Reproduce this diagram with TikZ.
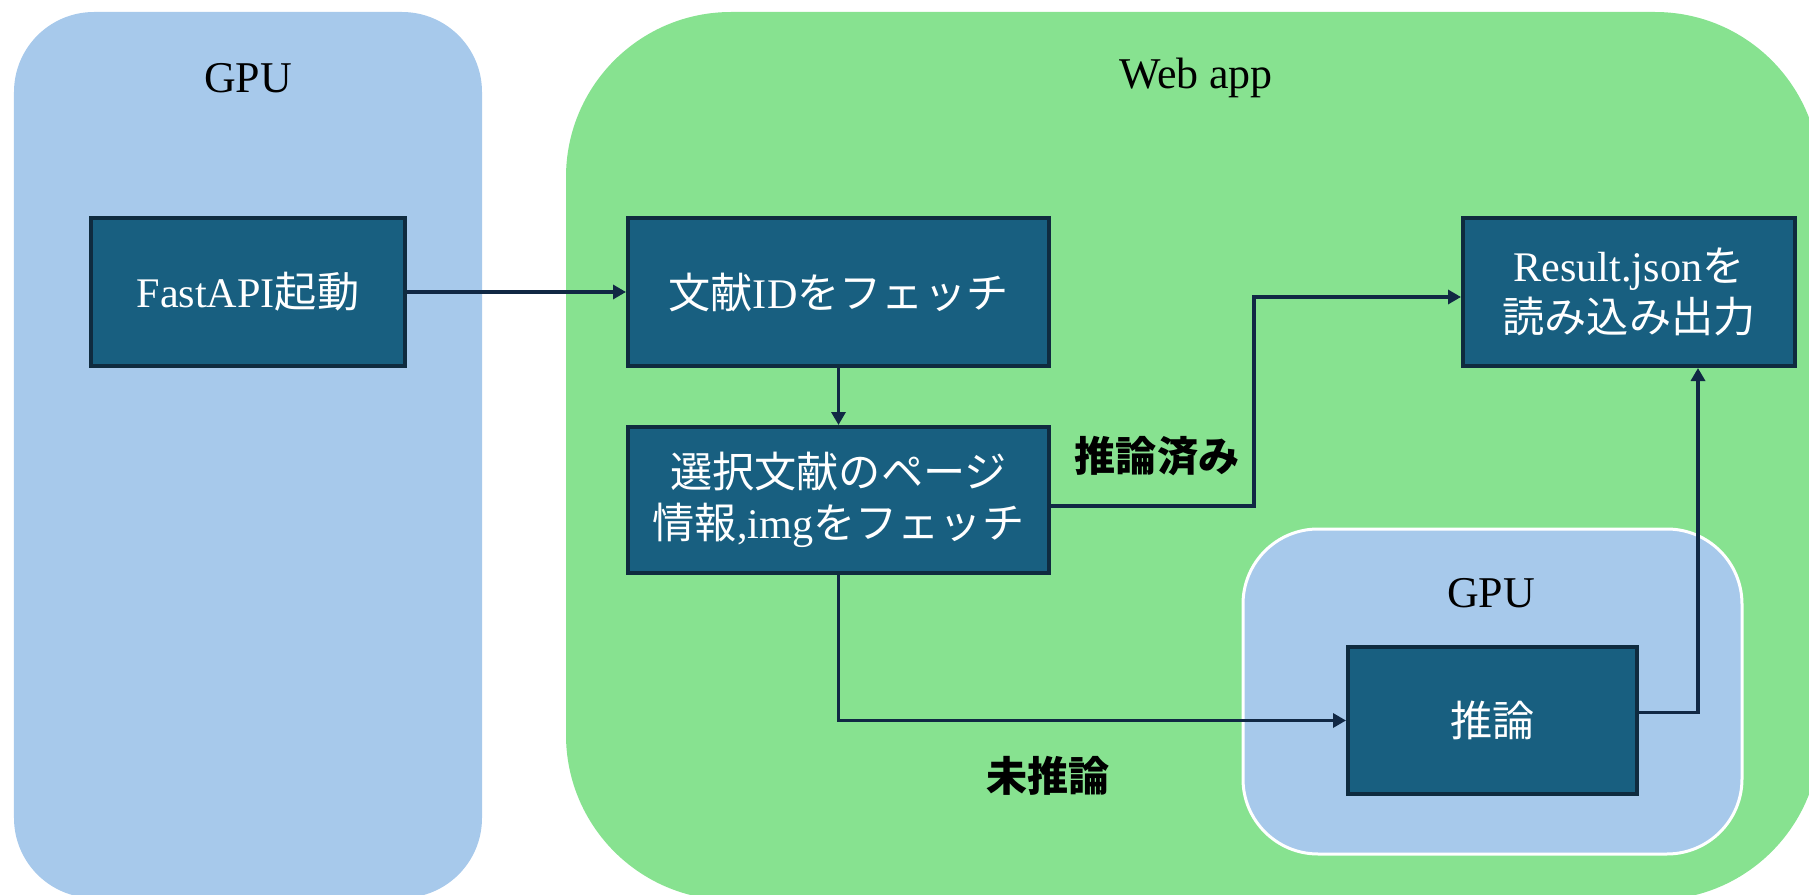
\documentclass[tikz,border=0pt]{standalone}
\usepackage{fontspec}
\setmainfont{Liberation Serif}
\newfontfamily\jp{Noto Sans CJK JP}
\usetikzlibrary{arrows.meta}
\definecolor{gpublue}{RGB}{167,201,235}
\definecolor{webgreen}{RGB}{135,226,144}
\definecolor{boxfill}{RGB}{24,95,128}
\definecolor{boxline}{RGB}{15,43,63}
\definecolor{arrline}{RGB}{17,40,68}
\newcommand{\bx}{\fontsize{12}{14.7}\selectfont}

\begin{document}
\begin{tikzpicture}[
   box/.style={draw=boxline,fill=boxfill,line width=0.04cm,text=white,align=center,font=\bx,inner sep=0pt},
   arr/.style={draw=arrline,line width=0.035cm,-{Triangle[length=0.13cm,width=0.14cm]}},
   lbl/.style={font=\fontsize{12.5}{15}\selectfont},
   tag/.style={font=\jp\bfseries\fontsize{11.7}{14}\selectfont}]
   \useasboundingbox (0,0) rectangle (18.09,8.94);
   \clip (0,0) rectangle (18.09,8.94);
   \fill[gpublue,rounded corners=0.8cm] (0.14,-0.04) rectangle (4.82,8.82);
   \fill[webgreen,rounded corners=1.65cm] (5.66,-0.06) rectangle (18.20,8.82);
   \filldraw[fill=gpublue,draw=white,line width=0.03cm,rounded corners=0.75cm] (12.43,0.40) rectangle (17.42,3.65);
   \node[lbl] (gpuA) at (2.48,8.16) {GPU};
   \node[lbl] (web)  at (11.96,8.16) {Web app};
   \node[lbl] (gpuB) at (14.91,3.01) {GPU};
   \node[box,minimum width=3.14cm,minimum height=1.48cm] (fast)  at (2.48,6.02)  {FastAPI{\jp 起動}};
   \node[box,minimum width=4.21cm,minimum height=1.48cm] (fetch) at (8.385,6.02) {{\jp 文献}ID{\jp をフェッチ}};
   \node[box,minimum width=4.21cm,minimum height=1.46cm] (sel)   at (8.385,3.94) {{\jp 選択文献のページ}\\{\jp 情報},img{\jp をフェッチ}};
   \node[box,minimum width=3.32cm,minimum height=1.48cm] (res)   at (16.29,6.02) {Result.json{\jp を}\\{\jp 読み込み出力}};
   \node[box,minimum width=2.89cm,minimum height=1.47cm] (inf)   at (14.925,1.735) {{\jp 推論}};
   \coordinate (bend) at (12.54,5.97);
   \draw[arr] (fast.east) -- (fetch.west);
   \draw[arr] (fetch.south) -- (sel.north);
   \draw[arr] ([yshift=-0.06cm]sel.east) -| (bend) -- (bend -| res.west);
   \draw[arr] (sel.south) |- (inf.west);
   \draw[arr] ([yshift=0.08cm]inf.east) -| ([xshift=0.69cm]res.south);
   \node[tag] (done) at (11.57,4.38) {推論済み};
   \node[tag] (todo) at (10.48,1.18) {未推論};
  \end{tikzpicture}
\end{document}
